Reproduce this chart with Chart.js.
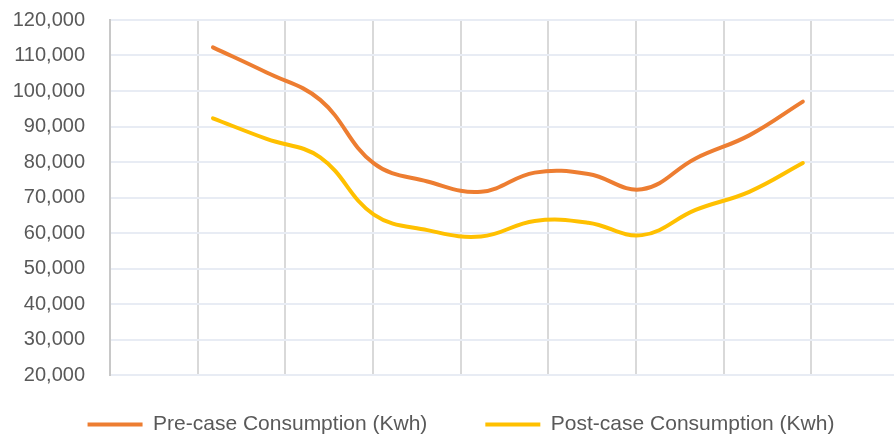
<!DOCTYPE html>
<html>
<head>
<meta charset="utf-8">
<script src="https://cdn.jsdelivr.net/npm/chart.js@4/dist/chart.umd.min.js"></script>
<style>
    html, body { margin: 0; padding: 0; background: #fff; }
    #wrap { width: 894px; height: 435px; }
</style>
</head>
<body>
<div id="wrap"><canvas id="consumptionChart"></canvas></div>
<script>
// monthly points, 12 of them (no x labels shown in the original)
const months = [0, 1, 2, 3, 4, 5, 6, 7, 8, 9, 10, 11];
const preCase = [112300, 105200, 97500, 79600, 74500, 71600, 77000, 76600, 72300, 81000, 87500, 97000];
const postCase = [92300, 86500, 81300, 65200, 60800, 59000, 63400, 62900, 59400, 66500, 71600, 79700];
const yTicks = [20000, 30000, 40000, 50000, 60000, 70000, 80000, 90000, 100000, 110000, 120000];
const seriesNames = ['Pre-case Consumption (Kwh)', 'Post-case Consumption (Kwh)'];

const xMin = -1.92, xMax = 12.70, gridStep = 1.635;
const font = "'Liberation Sans', Arial, sans-serif";

const toPoints = vals => vals.map((v, i) => ({ x: months[i], y: v }));

// legend: wide gap between items, but a short box with the row moved up
const legendFix = {
    id: 'legendFix',
    afterInit(chart) {
        const legend = chart.legend;
        const fit = legend.fit;
        const drawRow = legend._draw;
        legend.fit = function () {
            fit.call(this);
            this.height = 60;
        };
        legend._draw = function () {
            const c = this.ctx;
            c.save();
            c.translate(14, -19);
            drawRow.call(this);
            c.restore();
        };
    }
};

const ctx = document.getElementById('consumptionChart').getContext('2d');
new Chart(ctx, {
    type: 'line',
    data: {
        datasets: [{
            label: seriesNames[0],
            data: toPoints(preCase),
            borderColor: '#ED7D31',
            backgroundColor: '#ED7D31',
            borderWidth: 4,
            borderCapStyle: 'round',
            pointRadius: 0,
            tension: 0.4
        }, {
            label: seriesNames[1],
            data: toPoints(postCase),
            borderColor: '#FFC000',
            backgroundColor: '#FFC000',
            borderWidth: 4,
            borderCapStyle: 'round',
            pointRadius: 0,
            tension: 0.4
        }]
    },
    plugins: [legendFix],
    options: {
        responsive: true,
        maintainAspectRatio: false,
        animation: false,
        layout: { padding: { left: 0, right: 0, top: 20, bottom: 0 } },
        plugins: {
            tooltip: { enabled: false },
            legend: {
                position: 'bottom',
                labels: {
                    usePointStyle: true,
                    pointStyle: 'line',
                    pointStyleWidth: 55,
                    padding: 58,
                    color: '#595959',
                    font: { family: font, size: 21 }
                }
            }
        },
        scales: {
            x: {
                type: 'linear',
                min: xMin,
                max: xMax,
                afterBuildTicks: scale => {
                    const t = [];
                    for (let v = xMin; v < xMax; v += gridStep) t.push({ value: v });
                    scale.ticks = t;
                },
                ticks: { display: false },
                grid: { color: '#d9d9d9', lineWidth: 2, drawTicks: false },
                border: { color: '#e8ecf4', width: 2 }
            },
            y: {
                min: 20000,
                max: 120000,
                afterBuildTicks: scale => { scale.ticks = yTicks.map(v => ({ value: v })); },
                afterFit: scale => {
                    scale.width = 110;
                    scale.paddingTop = 0;
                    scale.paddingBottom = 0;
                },
                ticks: {
                    padding: 25,
                    color: '#595959',
                    font: { family: font, size: 20 },
                    callback: v => v.toLocaleString('en-US')
                },
                grid: { color: '#e8ecf4', lineWidth: 2, drawTicks: false },
                border: { color: '#c8c8c8', width: 2 }
            }
        }
    }
});
</script>
</body>
</html>
